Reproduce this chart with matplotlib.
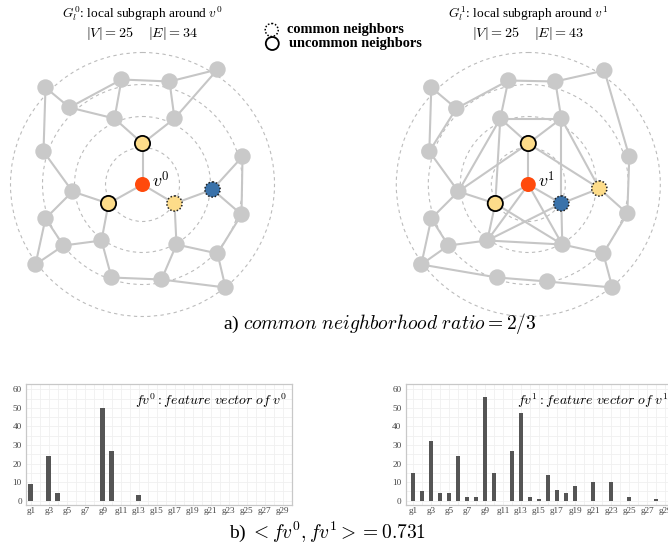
import numpy as np
import matplotlib.pyplot as plt
from matplotlib.patches import Circle
from matplotlib.collections import LineCollection

plt.rcParams['font.family'] = 'Liberation Serif'
plt.rcParams['mathtext.fontset'] = 'cm'

# local subgraph layouts: offsets from the query vertex (x right, y down)
pos0 = {
    'v': (0, 0), 'top': (0, -41), 'left': (-34, 19), 'c1': (32, 19), 'c2': (70, 5),
    'n1': (-97, -97), 'n2': (-21, -105), 'n3': (27, -103), 'n4': (75, -115),
    'n5': (-73, -77), 'n6': (-28, -66), 'n7': (32, -66), 'n8': (-99, -33),
    'n9': (100, -28), 'n10': (-70, 7), 'n11': (-97, 34), 'n12': (99, 30),
    'n13': (-79, 61), 'n14': (-41, 56), 'n15': (34, 60), 'n16': (75, 69),
    'n17': (-107, 80), 'n18': (-31, 93), 'n19': (19, 95), 'n20': (83, 103),
}
edges0 = [
    ('n1', 'n5'), ('n5', 'n2'), ('n5', 'n6'), ('n6', 'n2'), ('n2', 'n3'), ('n3', 'n4'),
    ('n3', 'n7'), ('n4', 'n7'), ('n1', 'n8'), ('n6', 'top'), ('n7', 'top'), ('top', 'v'),
    ('n8', 'n10'), ('n10', 'left'), ('n10', 'n11'), ('left', 'v'), ('left', 'n14'),
    ('v', 'c1'), ('c1', 'c2'), ('c1', 'n15'), ('c2', 'n9'), ('c2', 'n12'), ('n9', 'n12'),
    ('n12', 'n16'), ('n11', 'n17'), ('n11', 'n13'), ('n13', 'n17'), ('n13', 'n14'),
    ('n14', 'n18'), ('n18', 'n19'), ('n19', 'n15'), ('n19', 'n20'), ('n15', 'n16'),
    ('n16', 'n20'),
]
fill0 = {'top': 'yellow', 'left': 'yellow', 'c1': 'yellow', 'c2': 'blue'}

pos1 = {
    'v': (0, 0), 'top': (0, -41), 'left': (-33, 19), 'c1': (33, 19), 'c2': (71, 4),
    'n1': (-97, -97), 'n2': (-20, -104), 'n3': (27, -103), 'n4': (76, -114),
    'n5': (-72, -76), 'n6': (-28, -66), 'n7': (33, -66), 'n8': (-99, -33),
    'n9': (101, -28), 'n10': (-70, 7), 'n11': (-97, 34), 'n12': (99, 29),
    'n13': (-80, 61), 'n14': (-41, 56), 'n15': (34, 60), 'n16': (75, 69),
    'n17': (-107, 80), 'n18': (-31, 93), 'n19': (19, 97), 'n20': (84, 103),
}
edges1 = [
    ('n1', 'n5'), ('n5', 'n2'), ('n2', 'n3'), ('n3', 'n4'), ('n2', 'n6'), ('n3', 'n7'),
    ('n6', 'n7'), ('n1', 'n8'), ('n5', 'n8'), ('n4', 'n9'), ('n6', 'top'), ('n7', 'top'),
    ('top', 'v'), ('n6', 'left'), ('n7', 'c1'), ('n6', 'n10'), ('top', 'n10'),
    ('n7', 'c2'), ('top', 'c2'), ('n8', 'n10'), ('n10', 'left'), ('n10', 'n11'),
    ('v', 'left'), ('v', 'c1'), ('v', 'n14'), ('v', 'n15'), ('left', 'n14'),
    ('left', 'n15'), ('c1', 'c2'), ('c1', 'n15'), ('c1', 'n14'), ('n14', 'n15'),
    ('n14', 'n13'), ('n11', 'n13'), ('n11', 'n17'), ('n13', 'n17'), ('c2', 'n12'),
    ('n9', 'n12'), ('n12', 'n16'), ('n15', 'n16'), ('n16', 'n20'), ('n17', 'n18'),
    ('n18', 'n19'), ('n19', 'n20'),
]
fill1 = {'top': 'yellow', 'left': 'yellow', 'c1': 'blue', 'c2': 'yellow'}

uncommon = ['top', 'left']
common = ['c1', 'c2']
ring_radii = [37, 68, 100, 132]

# feature vectors
genes = ['g%d' % i for i in range(1, 30)]
fv0 = [9, 0, 24, 4, 0, 0, 0, 0, 50, 27, 0, 0, 3, 0, 0, 0, 0, 0, 0, 0,
       0, 0, 0, 0, 0, 0, 0, 0, 0]
fv1 = [15, 5, 32, 4, 4, 24, 2, 2, 56, 15, 0, 27, 47, 2, 1, 14, 6, 4, 8, 0,
       10, 0, 10, 0, 2, 0, 0, 1, 0]

colors = {'yellow': '#fddc8a', 'blue': '#3a72aa', 'gray': '#c9c9c9',
          'center': '#ff4a0c', 'edge': '#c6c6c6', 'ring': '#bcbcbc'}

fig = plt.figure(figsize=(6.68, 5.56), dpi=100)
gax = fig.add_axes([0, 0, 1, 1])
gax.set_xlim(0, 668)
gax.set_ylim(556, 0)
gax.axis('off')


def draw_graph(ax, cx, cy, pos, edges, fill, label):
    for r in ring_radii:
        ax.add_patch(Circle((cx, cy), r, fill=False, ec=colors['ring'], lw=0.8,
                            ls=(0, (3, 3)), zorder=1))
    segs = [[(cx + pos[a][0], cy + pos[a][1]), (cx + pos[b][0], cy + pos[b][1])]
            for a, b in edges]
    ax.add_collection(LineCollection(segs, colors=colors['edge'], linewidths=1.5, zorder=2))
    for name, (dx, dy) in pos.items():
        x, y = cx + dx, cy + dy
        if name == 'v':
            ax.add_patch(Circle((x, y), 7.5, fc=colors['center'], ec='none', zorder=3))
        elif name in uncommon:
            ax.add_patch(Circle((x, y), 7.6, fc=colors[fill[name]], ec='black', lw=1.3, zorder=3))
        elif name in common:
            ax.add_patch(Circle((x, y), 7.6, fc=colors[fill[name]], ec='#222222', lw=1.1,
                                ls=(0, (1, 1.2)), zorder=3))
        else:
            ax.add_patch(Circle((x, y), 8.2, fc=colors['gray'], ec='none', zorder=3))
    ax.text(cx + 10, cy - 3, label, fontsize=13, va='center', ha='left', zorder=4)


draw_graph(gax, 142.5, 184.5, pos0, edges0, fill0, r'$v^0$')
draw_graph(gax, 528.3, 184.5, pos1, edges1, fill1, r'$v^1$')

gax.text(142, 14, r'$G_l^0$: local subgraph around $v^0$', fontsize=9.6, ha='center', va='center')
gax.text(142, 34, r'$|V| = 25 \quad\; |E| = %d$' % len(edges0), fontsize=10.2,
         ha='center', va='center')
gax.text(528, 14, r'$G_l^1$: local subgraph around $v^1$', fontsize=9.6, ha='center', va='center')
gax.text(528, 34, r'$|V| = 25 \quad\; |E| = 43$', fontsize=10.2, ha='center', va='center')

# legend for neighbor borders
gax.add_patch(Circle((271.7, 30), 6.5, fill=False, ec='black', lw=1.1, ls=(0, (1, 1.2))))
gax.add_patch(Circle((272.3, 43.5), 6.5, fill=False, ec='black', lw=1.3))
gax.text(287, 30, 'common neighbors', fontsize=10.4, fontweight='bold', va='center')
gax.text(289, 44, 'uncommon neighbors', fontsize=10.4, fontweight='bold', va='center')

gax.text(380, 323, r'a) $common\ neighborhood\ ratio = 2/3$', fontsize=14, ha='center', va='center')
gax.text(328, 532, r'b) $< fv^0, fv^1 >= 0.731$', fontsize=14, ha='center', va='center')


def draw_bars(rect, values, xlim, label):
    ax = fig.add_axes(rect)
    x = np.arange(1, len(genes) + 1)
    ax.bar(x, values, width=0.55, color='#555555', zorder=2)
    ax.set_xlim(*xlim)
    ax.set_ylim(-2.3, 62.7)
    ax.set_xticks(x[::2])
    ax.set_xticklabels(genes[::2])
    ax.set_yticks(np.arange(0, 61, 10))
    ax.set_xticks(x, minor=True)
    ax.set_yticks(np.arange(0, 61, 5), minor=True)
    ax.grid(which='both', color='#f0f0f0', lw=0.6, zorder=0)
    ax.tick_params(which='both', length=0, labelsize=6.6, colors='#444444')
    ax.tick_params(axis='y', pad=3)
    ax.tick_params(axis='x', pad=1.5)
    for s in ax.spines.values():
        s.set_color('#c8c8c8')
        s.set_linewidth(0.9)
    ax.annotate(label, xy=(1, 1), xycoords='axes fraction', xytext=(-4, -12),
                textcoords='offset points', ha='right', va='center', fontsize=10)
    return ax


draw_bars([26 / 668, 51 / 556, 266.3 / 668, 120.7 / 556], fv0, (0.45, 30.07),
          r'$fv^0 : feature\ vector\ of\ v^0$')
draw_bars([405.7 / 668, 51 / 556, 268.3 / 668, 120.7 / 556], fv1, (0.19, 30.0),
          r'$fv^1 : feature\ vector\ of\ v^1$')

fig.savefig('out.png', dpi=100)
